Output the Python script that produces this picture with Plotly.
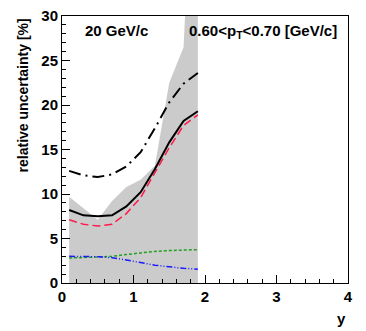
import plotly.graph_objects as go

# rapidity bin centres
y_bins = [0.1, 0.3, 0.5, 0.7, 0.9, 1.1, 1.3, 1.5, 1.7, 1.9]

# relative uncertainties [%]
band_upper = [9.7, 8.4, 7.1, 9.2, 10.8, 11.6, 13.2, 22.5, 26.5, 60.0]
total = [8.2, 7.6, 7.5, 7.6, 8.6, 10.2, 12.8, 15.8, 18.2, 19.3]
stat = [7.1, 6.6, 6.4, 6.6, 7.8, 9.6, 12.4, 15.2, 17.7, 18.9]
upper_alt = [12.6, 12.1, 11.9, 12.2, 13.1, 14.7, 17.4, 20.3, 22.4, 23.6]
syst_green = [2.8, 2.85, 2.9, 3.0, 3.2, 3.4, 3.55, 3.65, 3.7, 3.75]
syst_blue = [3.0, 3.0, 2.95, 2.85, 2.6, 2.3, 2.0, 1.8, 1.65, 1.55]

FONT = "Liberation Sans, Arial, sans-serif"

fig = go.Figure()

fig.add_trace(go.Scatter(
    x=y_bins, y=band_upper, mode='lines', fill='tozeroy',
    fillcolor='#cbcbcb', line=dict(width=0, color='#cbcbcb'),
    showlegend=False
))
fig.add_trace(go.Scatter(
    x=y_bins, y=upper_alt, mode='lines',
    line=dict(color='black', width=2, dash='12px,5px,2px,5px'),
    showlegend=False
))
fig.add_trace(go.Scatter(
    x=y_bins, y=stat, mode='lines',
    line=dict(color='#ff1a4a', width=1.5, dash='8px,4px'),
    showlegend=False
))
fig.add_trace(go.Scatter(
    x=y_bins, y=total, mode='lines',
    line=dict(color='black', width=2),
    showlegend=False
))
fig.add_trace(go.Scatter(
    x=y_bins, y=syst_green, mode='lines',
    line=dict(color='#22a022', width=1.5, dash='3px,2px'),
    showlegend=False
))
fig.add_trace(go.Scatter(
    x=y_bins, y=syst_blue, mode='lines',
    line=dict(color='#1a1aff', width=1.5, dash='6px,2px,1px,2px,1px,2px'),
    showlegend=False
))

axis_common = dict(
    showgrid=False, zeroline=False, showline=True, linecolor='black',
    linewidth=1, mirror=True, ticks='inside', ticklen=8, tickcolor='black',
    automargin=False,
    tickfont=dict(family=FONT, size=15, color='black', weight='bold'),
)

fig.update_xaxes(range=[0, 4], dtick=1, tick0=0,
                 minor=dict(dtick=0.2, ticklen=4, ticks='inside', tickcolor='black'),
                 **axis_common)
fig.update_yaxes(range=[0, 30], dtick=5, tick0=0,
                 minor=dict(dtick=1, ticklen=4, ticks='inside', tickcolor='black'),
                 **axis_common)

fig.update_layout(
    width=366, height=331,
    margin=dict(l=62, r=18, t=16, b=48),
    paper_bgcolor='white', plot_bgcolor='white',
    font=dict(family=FONT, color='black'),
    annotations=[
        dict(text='<b>relative uncertainty [%]</b>', xref='paper', yref='paper',
             x=-0.135, y=1.0, xanchor='center', yanchor='top', textangle=-90,
             showarrow=False, font=dict(size=14)),
        dict(text='<b>y</b>', xref='paper', yref='paper', x=1.0, y=-0.095,
             xanchor='right', yanchor='top', showarrow=False, font=dict(size=15)),
        dict(text='<b>20 GeV/c</b>', xref='paper', yref='paper', x=0.075, y=0.985,
             xanchor='left', yanchor='top', showarrow=False, font=dict(size=15)),
        dict(text='<b>0.60<p<sub>T</sub><0.70 [GeV/c]</b>', xref='paper', yref='paper',
             x=0.97, y=0.985, xanchor='right', yanchor='top', showarrow=False,
             font=dict(size=15)),
    ],
)

# drop the browser's default body margin so the figure sits at the page corner
fig.write_html("out.html", config={'displayModeBar': False},
               post_script="document.body.style.margin='0px';")
